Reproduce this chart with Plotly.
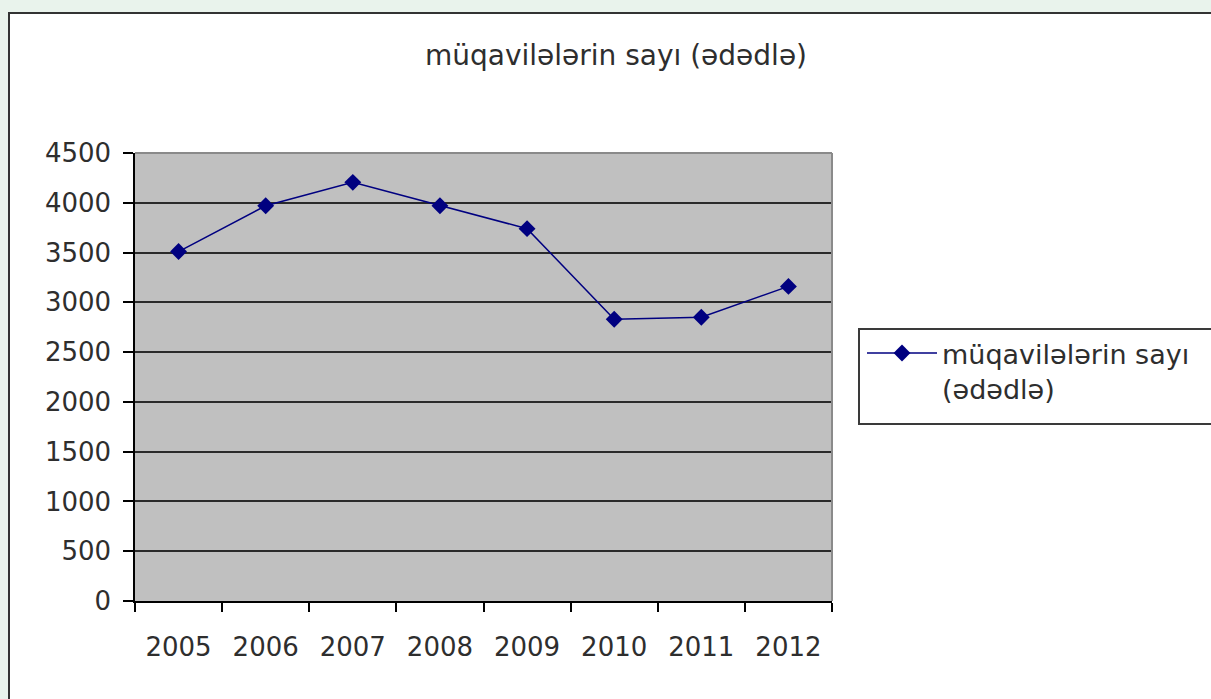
import plotly.graph_objects as go

years = ["2005", "2006", "2007", "2008", "2009", "2010", "2011", "2012"]
values = [3510, 3970, 4205, 3970, 3740, 2830, 2850, 3160]
series_name = "müqavilələrin sayı<br>(ədədlə)"
title_text = "müqavilələrin sayı (ədədlə)"
y_ticks = [0, 500, 1000, 1500, 2000, 2500, 3000, 3500, 4000, 4500]

W, H = 1211, 699
L, R, T, B = 135, 379, 153, 98
pw, ph = W - L - R, H - T - B

def px(x):
    return (x - L) / pw

def py(y):
    return (H - B - y) / ph

font = "DejaVu Sans, Liberation Sans, Arial, sans-serif"
txt = "#2e2e2e"

fig = go.Figure()
fig.add_trace(go.Scatter(
    x=years, y=values, name=series_name, mode="lines+markers",
    line=dict(color="#000080", width=1.5),
    marker=dict(symbol="diamond", size=13, color="#000080"),
))

shapes = [
    # outer white chart area
    dict(type="rect", xref="paper", yref="paper", x0=px(9), x1=px(1240), y0=py(730), y1=py(13),
         fillcolor="white", line=dict(color="#333333", width=2), layer="below"),
    # grey plot area
    dict(type="rect", xref="paper", yref="paper", x0=0, x1=1, y0=0, y1=1,
         fillcolor="#c0c0c0", line=dict(width=0), layer="below"),
    # legend box
    dict(type="rect", xref="paper", yref="paper", x0=px(859), x1=px(1240), y0=py(424), y1=py(329),
         fillcolor="white", line=dict(color="#3a3a3a", width=2), layer="below"),
    # plot area top & right borders
    dict(type="line", xref="paper", yref="paper", x0=0, x1=1, y0=1, y1=1,
         line=dict(color="#8a8a8a", width=2), layer="above"),
    dict(type="line", xref="paper", yref="paper", x0=1, x1=1, y0=0, y1=1,
         line=dict(color="#8a8a8a", width=2), layer="above"),
]

fig.update_layout(
    width=W, height=H,
    margin=dict(l=L, r=R, t=T, b=B, pad=0),
    paper_bgcolor="#e9f3ec",
    plot_bgcolor="#c0c0c0",
    font=dict(family=font, size=25, color=txt),
    title=dict(text=title_text, xref="container", x=616 / W, xanchor="center",
               yref="container", y=1 - 55 / H, yanchor="middle",
               font=dict(family=font, size=28, color=txt)),
    showlegend=True,
    legend=dict(x=px(862), xanchor="left", y=py(329), yanchor="top",
                bgcolor="rgba(0,0,0,0)", borderwidth=0, valign="top",
                font=dict(family=font, size=27, color=txt),
                itemwidth=70, tracegroupgap=0),
    shapes=shapes,
)

fig.update_xaxes(
    type="category", range=[-0.5, 7.5], tickson="boundaries",
    showline=True, linecolor="black", linewidth=1.5,
    ticks="outside", ticklen=9, tickcolor="black", tickwidth=1.5,
    ticklabelstandoff=22,
    showgrid=False, zeroline=False,
    tickfont=dict(family=font, size=26, color=txt),
)
fig.update_yaxes(
    range=[0, 4500], tickvals=y_ticks, ticktext=[str(v) for v in y_ticks],
    showline=True, linecolor="black", linewidth=1.5,
    ticks="outside", ticklen=10, tickcolor="black", tickwidth=1.5,
    ticklabelstandoff=7,
    showgrid=True, gridcolor="#2a2a2a", gridwidth=1.5, zeroline=False,
    tickfont=dict(family=font, size=26, color=txt),
)

fig.write_html(
    "out.html",
    config={"displayModeBar": False},
    post_script="document.body.style.margin='0';document.body.style.background='#e9f3ec';",
)
